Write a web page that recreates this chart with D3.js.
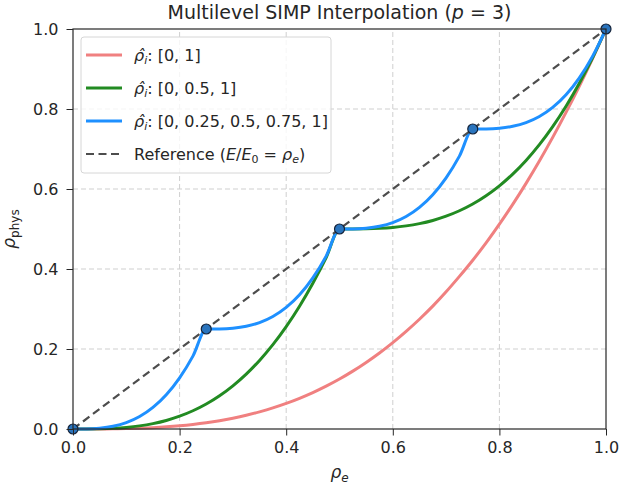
<!DOCTYPE html>
<html>
<head>
<meta charset="utf-8">
<script src="https://cdn.jsdelivr.net/npm/d3@7"></script>
<style>
  body { margin: 0; background: #fff; }
  svg { font-family: "DejaVu Sans", sans-serif; }
</style>
</head>
<body>
<svg id="chart" width="622" height="486"></svg>
<script>
// density samples along rho_e (step 0.025)
const rhoE = d3.range(41).map(i => i * 0.025);

// levels [0, 1]
const simp1 = [0, 0.0000156, 0.000125, 0.000422, 0.001, 0.00195, 0.003375, 0.00536, 0.008, 0.0114,
  0.015625, 0.0208, 0.027, 0.0343, 0.0429, 0.0527, 0.064, 0.0768, 0.0911, 0.1072,
  0.125, 0.1447, 0.1664, 0.1901, 0.216, 0.2441, 0.2744, 0.3071, 0.343, 0.3815,
  0.4219, 0.4652, 0.512, 0.5615, 0.6141, 0.6699, 0.729, 0.7915, 0.8574, 0.9268, 1];

// levels [0, 0.5, 1]
const simp2 = [0, 0.0000625, 0.0005, 0.0017, 0.004, 0.0078, 0.0135, 0.0214, 0.032, 0.0456,
  0.0625, 0.0832, 0.108, 0.1373, 0.1715, 0.2109, 0.256, 0.3071, 0.3645, 0.4287,
  0.5, 0.50006, 0.5005, 0.5017, 0.504, 0.5078, 0.5135, 0.5214, 0.532, 0.5456,
  0.5625, 0.5832, 0.608, 0.6373, 0.6715, 0.7109, 0.756, 0.8071, 0.8645, 0.9287, 1];

// levels [0, 0.25, 0.5, 0.75, 1]
const simp4 = [0, 0.00025, 0.002, 0.00675, 0.016, 0.03125, 0.054, 0.08575, 0.128, 0.18225,
  0.25, 0.25025, 0.252, 0.25675, 0.266, 0.28125, 0.304, 0.33575, 0.378, 0.43225,
  0.5, 0.50025, 0.502, 0.50675, 0.516, 0.53125, 0.554, 0.58575, 0.628, 0.68225,
  0.75, 0.75025, 0.752, 0.75675, 0.766, 0.78125, 0.804, 0.83575, 0.878, 0.93225, 1];

const levelPoints = [0, 0.25, 0.5, 0.75, 1];
const ticks = [0, 0.2, 0.4, 0.6, 0.8, 1.0];

const series = [
  { name: "[0, 1]", values: simp1, color: "#F08080" },
  { name: "[0, 0.5, 1]", values: simp2, color: "#228B22" },
  { name: "[0, 0.25, 0.5, 0.75, 1]", values: simp4, color: "#1E90FF" }
];

const svg = d3.select("#chart");
const width = +svg.attr("width");
const height = +svg.attr("height");
const margin = {top: 29, right: 16, bottom: 57, left: 73};

const x = d3.scaleLinear().domain([0, 1]).range([margin.left, width - margin.right]);
const y = d3.scaleLinear().domain([0, 1]).range([height - margin.bottom, margin.top]);

// grid
svg.append("g")
  .selectAll("line")
  .data(ticks.slice(1, -1))
  .join("line")
  .attr("x1", d => x(d)).attr("x2", d => x(d))
  .attr("y1", y(0)).attr("y2", y(1))
  .attr("stroke", "#cfcfcf").attr("stroke-width", 1).attr("stroke-dasharray", "5,3");
svg.append("g")
  .selectAll("line")
  .data(ticks.slice(1, -1))
  .join("line")
  .attr("y1", d => y(d)).attr("y2", d => y(d))
  .attr("x1", x(0)).attr("x2", x(1))
  .attr("stroke", "#cfcfcf").attr("stroke-width", 1).attr("stroke-dasharray", "5,3");

const plot = svg.append("g");

const line = d3.line()
  .x((d, i) => x(rhoE[i]))
  .y(d => y(d))
  .curve(d3.curveMonotoneX);

series.forEach(s => {
  plot.append("path")
    .attr("d", line(s.values))
    .attr("fill", "none")
    .attr("stroke", s.color)
    .attr("stroke-width", 3);
});

// reference line
plot.append("path")
  .attr("d", d3.line().x(d => x(d)).y(d => y(d))([0, 1]))
  .attr("fill", "none")
  .attr("stroke", "#4d4d4d")
  .attr("stroke-width", 2.2)
  .attr("stroke-dasharray", "8,4.5");

// level markers
plot.selectAll("circle")
  .data(levelPoints)
  .join("circle")
  .attr("cx", d => x(d))
  .attr("cy", d => y(d))
  .attr("r", 5)
  .attr("fill", "#2a74bd")
  .attr("stroke", "#14233a")
  .attr("stroke-width", 1.2);

// axes
const fmt = d3.format(".1f");
const xAxis = svg.append("g")
  .attr("transform", `translate(0,${y(0)})`)
  .call(d3.axisBottom(x).tickValues(ticks).tickFormat(fmt).tickSize(6.5).tickPadding(6));
const yAxis = svg.append("g")
  .attr("transform", `translate(${x(0)},0)`)
  .call(d3.axisLeft(y).tickValues(ticks).tickFormat(fmt).tickSize(6.5).tickPadding(8));
[xAxis, yAxis].forEach(a => {
  a.select(".domain").remove();
  a.selectAll("text").attr("font-size", 16).attr("fill", "#262626").attr("font-family", "DejaVu Sans");
  a.selectAll("line").attr("stroke", "#262626");
});

// frame
svg.append("rect")
  .attr("x", x(0)).attr("y", y(1))
  .attr("width", x(1) - x(0)).attr("height", y(0) - y(1))
  .attr("fill", "none").attr("stroke", "#262626").attr("stroke-width", 1.2);

// title
const title = svg.append("text")
  .attr("x", (x(0) + x(1)) / 2).attr("y", 19)
  .attr("text-anchor", "middle").attr("font-size", 19).attr("fill", "#262626");
title.append("tspan").text("Multilevel SIMP Interpolation (");
title.append("tspan").attr("font-style", "italic").text("p");
title.append("tspan").text(" = 3)");

// axis labels
const xl = svg.append("text")
  .attr("x", (x(0) + x(1)) / 2).attr("y", 478)
  .attr("text-anchor", "middle").attr("font-size", 17).attr("fill", "#262626");
xl.append("tspan").attr("font-style", "italic").text("ρ");
xl.append("tspan").attr("font-style", "italic").attr("font-size", 12).attr("dy", 3.5).text("e");

const yl = svg.append("text")
  .attr("transform", `translate(15,${(y(0) + y(1)) / 2}) rotate(-90)`)
  .attr("text-anchor", "middle").attr("font-size", 17).attr("fill", "#262626");
yl.append("tspan").attr("font-style", "italic").text("ρ");
yl.append("tspan").attr("font-size", 12).attr("dy", 3.5).text("phys");

// legend
const legend = svg.append("g").attr("transform", "translate(81,37)");
legend.append("rect")
  .attr("width", 250).attr("height", 136).attr("rx", 3)
  .attr("fill", "#fff").attr("fill-opacity", 0.8)
  .attr("stroke", "#d6d6d6").attr("stroke-width", 1);

const entries = series.map(s => ({ color: s.color, dash: null, name: s.name, ref: false }))
  .concat([{ color: "#4d4d4d", dash: "8,4.5", ref: true }]);

entries.forEach((e, i) => {
  const ey = 18 + i * 33;
  legend.append("line")
    .attr("x1", 5).attr("x2", 41).attr("y1", ey).attr("y2", ey)
    .attr("stroke", e.color).attr("stroke-width", e.ref ? 2.2 : 3)
    .attr("stroke-dasharray", e.dash);
  const t = legend.append("text")
    .attr("x", 53).attr("y", ey + 6)
    .attr("font-size", 16).attr("fill", "#262626");
  if (!e.ref) {
    t.append("tspan").attr("font-style", "italic").text("ρ\u0302");
    t.append("tspan").attr("font-style", "italic").attr("font-size", 11).attr("dy", 3).text("i");
    t.append("tspan").attr("dy", -3).text(": " + e.name);
  } else {
    t.append("tspan").text("Reference (");
    t.append("tspan").attr("font-style", "italic").text("E");
    t.append("tspan").text("/");
    t.append("tspan").attr("font-style", "italic").text("E");
    t.append("tspan").attr("font-size", 11).attr("dy", 3).text("0");
    t.append("tspan").attr("dy", -3).text(" = ");
    t.append("tspan").attr("font-style", "italic").text("ρ");
    t.append("tspan").attr("font-style", "italic").attr("font-size", 11).attr("dy", 3).text("e");
    t.append("tspan").attr("dy", -3).text(")");
  }
});
</script>
</body>
</html>
